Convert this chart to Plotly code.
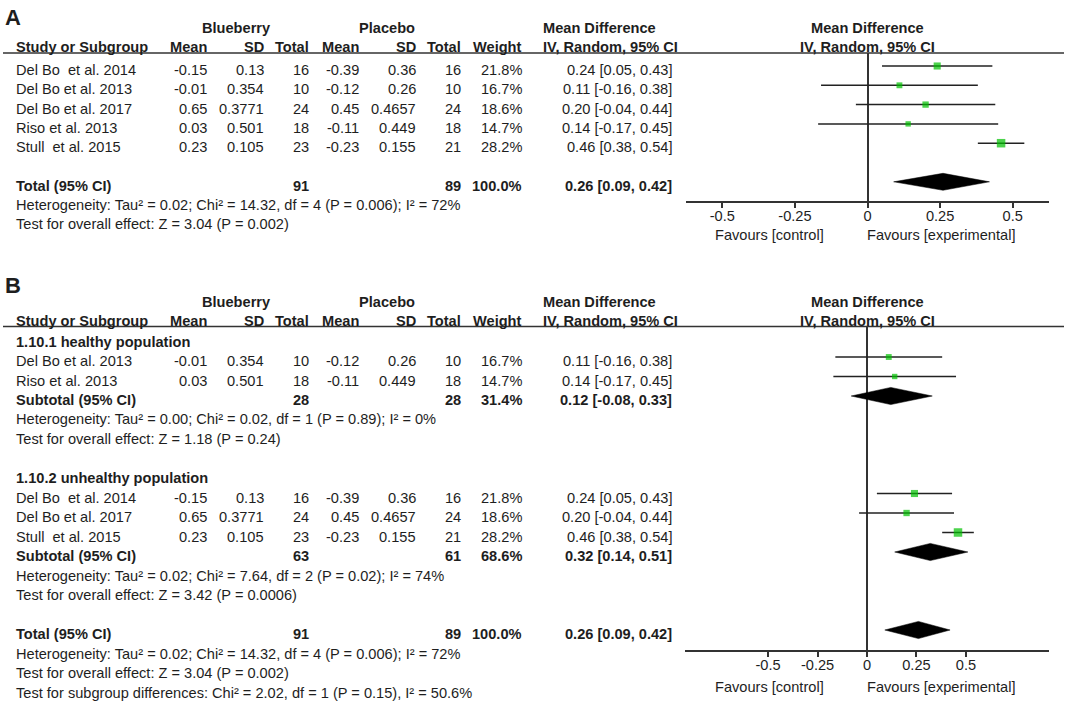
import plotly.graph_objects as go

W, H = 1065, 704

# study level data (same five trials in both panels)
studies = ['Del Bo\u00a0 et al. 2014', 'Del Bo et al. 2013', 'Del Bo et al. 2017',
           'Riso et al. 2013', 'Stull\u00a0 et al. 2015']
blue_mean = [-0.15, -0.01, 0.65, 0.03, 0.23]
blue_sd = [0.13, 0.354, 0.3771, 0.501, 0.105]
blue_n = [16, 10, 24, 18, 23]
plac_mean = [-0.39, -0.12, 0.45, -0.11, -0.23]
plac_sd = [0.36, 0.26, 0.4657, 0.449, 0.155]
plac_n = [16, 10, 24, 18, 21]
weight = [21.8, 16.7, 18.6, 14.7, 28.2]
md = [0.24, 0.11, 0.20, 0.14, 0.46]
ci_lo = [0.05, -0.16, -0.04, -0.17, 0.38]
ci_hi = [0.43, 0.38, 0.44, 0.45, 0.54]

# pooled result
total_n = [91, 89]
total_weight = 100.0
total_md, total_lo, total_hi = 0.26, 0.09, 0.42
total_het = 'Heterogeneity: Tau² = 0.02; Chi² = 14.32, df = 4 (P = 0.006); I² = 72%'
total_test = 'Test for overall effect: Z = 3.04 (P = 0.002)'
subgroup_diff = 'Test for subgroup differences: Chi² = 2.02, df = 1 (P = 0.15), I² = 50.6%'

# subgroups for panel B
group_names = ['1.10.1 healthy population', '1.10.2 unhealthy population']
group_members = [[1, 3], [0, 2, 4]]
sub_n_blue = [28, 63]
sub_n_plac = [28, 61]
sub_weight = [31.4, 68.6]
sub_md = [0.12, 0.32]
sub_lo = [-0.08, 0.14]
sub_hi = [0.33, 0.51]
sub_het = ['Heterogeneity: Tau² = 0.00; Chi² = 0.02, df = 1 (P = 0.89); I² = 0%',
           'Heterogeneity: Tau² = 0.02; Chi² = 7.64, df = 2 (P = 0.02); I² = 74%']
sub_test = ['Test for overall effect: Z = 1.18 (P = 0.24)',
            'Test for overall effect: Z = 3.42 (P = 0.0006)']

tick_vals = [-0.5, -0.25, 0, 0.25, 0.5]
tick_text = ['-0.5', '-0.25', '0', '0.25', '0.5']

TXT = '#1e1e1e'
GREEN = '#00c000'
FONT = 'Liberation Sans, Arial, sans-serif'
FS = 14.6
COL_X = [208, 265, 310, 360, 417, 462, 523]  # right edges of the numeric columns
EFF_X = 673

annotations = []
shapes = []


def label(x, y, text, anchor='left', bold=False, size=FS):
    annotations.append(dict(xref='paper', yref='paper', x=x / W, y=1 - y / H,
                            text=f'<b>{text}</b>' if bold else text, showarrow=False,
                            xanchor=anchor, yanchor='middle', borderpad=0,
                            font=dict(size=size, color=TXT, family=FONT)))


def effect(m, lo, hi):
    return f'{m:.2f} [{lo:.2f}, {hi:.2f}]'


def header(top):
    label(236, top, 'Blueberry', 'center', True)
    label(387, top, 'Placebo', 'center', True)
    label(542, top, 'Mean Difference', 'left', True)
    label(867, top, 'Mean Difference', 'center', True)
    y2 = top + 19
    label(15, y2, 'Study or Subgroup', 'left', True)
    for x, t in zip(COL_X, ['Mean', 'SD', 'Total', 'Mean', 'SD', 'Total', 'Weight']):
        label(x, y2, t, 'right', True)
    label(542, y2, 'IV, Random, 95% CI', 'left', True)
    label(867, y2, 'IV, Random, 95% CI', 'center', True)
    shapes.append(dict(type='line', xref='paper', yref='paper', x0=3 / W, x1=1064 / W,
                       y0=1 - (top + 25) / H, y1=1 - (top + 25) / H,
                       line=dict(color='#333333', width=1.5)))


def study_row(y, i):
    label(15, y, studies[i])
    vals = [blue_mean[i], blue_sd[i], blue_n[i], plac_mean[i], plac_sd[i], plac_n[i],
            f'{weight[i]:.1f}%']
    for x, v in zip(COL_X, vals):
        label(x, y, str(v), 'right')
    label(EFF_X, y, effect(md[i], ci_lo[i], ci_hi[i]), 'right')


def pooled_row(y, name, n1, n2, w, m, lo, hi):
    label(15, y, name, 'left', True)
    label(COL_X[2], y, str(n1), 'right', True)
    label(COL_X[5], y, str(n2), 'right', True)
    label(COL_X[6], y, f'{w:.1f}%', 'right', True)
    label(EFF_X, y, effect(m, lo, hi), 'right', True)


fig = go.Figure()


def add_forest(xa, ya, rows, idx):
    fig.add_trace(go.Scatter(
        x=[md[i] for i in idx], y=rows, mode='markers', xaxis=xa, yaxis=ya,
        marker=dict(symbol='square', color=GREEN, size=[0.82 * weight[i] ** 0.7 for i in idx],
                    line=dict(width=0)),
        error_x=dict(type='data', symmetric=False,
                     array=[ci_hi[i] - md[i] for i in idx],
                     arrayminus=[md[i] - ci_lo[i] for i in idx],
                     color='#222222', thickness=1.5, width=0),
        showlegend=False, hoverinfo='skip'))


def add_diamond(xa, ya, r, m, lo, hi, h=0.44):
    fig.add_trace(go.Scatter(
        x=[lo, m, hi, m, lo], y=[r, r - h, r, r + h, r], mode='lines', fill='toself',
        fillcolor='black', line=dict(color='black', width=0.5), xaxis=xa, yaxis=ya,
        showlegend=False, hoverinfo='skip'))


# ---------------- panel A ----------------
label(4, 17, 'A', 'left', True, 22)
header(28)
a_base, a_step = 70, 19.3
for k in range(5):
    study_row(a_base + k * a_step, k)
pooled_row(a_base + 6 * a_step, 'Total (95% CI)', total_n[0], total_n[1], total_weight,
           total_md, total_lo, total_hi)
label(15, a_base + 7 * a_step, total_het)
label(15, a_base + 8 * a_step, total_test)

add_forest('x', 'y', list(range(5)), list(range(5)))
add_diamond('x', 'y', 6, total_md, total_lo, total_hi)

# ---------------- panel B ----------------
label(4, 285, 'B', 'left', True, 22)
header(301.5)
b_base, b_step = 341.5, 19.5
k = 0
for g, members in enumerate(group_members):
    label(15, b_base + k * b_step, group_names[g], 'left', True)
    rows = [k + 1 + j for j in range(len(members))]
    for r, i in zip(rows, members):
        study_row(b_base + r * b_step, i)
    add_forest('x2', 'y2', rows, members)
    ks = k + 1 + len(members)
    pooled_row(b_base + ks * b_step, 'Subtotal (95% CI)', sub_n_blue[g], sub_n_plac[g],
               sub_weight[g], sub_md[g], sub_lo[g], sub_hi[g])
    add_diamond('x2', 'y2', ks, sub_md[g], sub_lo[g], sub_hi[g])
    label(15, b_base + (ks + 1) * b_step, sub_het[g])
    label(15, b_base + (ks + 2) * b_step, sub_test[g])
    k = ks + 4
pooled_row(b_base + k * b_step, 'Total (95% CI)', total_n[0], total_n[1], total_weight,
           total_md, total_lo, total_hi)
add_diamond('x2', 'y2', k, total_md, total_lo, total_hi)
label(15, b_base + (k + 1) * b_step, total_het)
label(15, b_base + (k + 2) * b_step, total_test)
label(15, b_base + (k + 3) * b_step, subgroup_diff)

# favour labels under both axes
for fy in (235, 687):
    label(769, fy, 'Favours [control]', 'center')
    label(941, fy, 'Favours [experimental]', 'center')


def xaxis_style(dom, rng, anchor, inside=False):
    d = dict(domain=[dom[0] / W, dom[1] / W], range=rng, anchor=anchor,
             tickvals=tick_vals, ticktext=tick_text, ticklen=5, tickwidth=1.5,
             tickcolor='#333333', showgrid=False, fixedrange=True)
    if inside:
        d.update(ticks='inside', showticklabels=False, showline=False, zeroline=False)
    else:
        d.update(ticks='outside', showline=True, linecolor='#333333', linewidth=1.5,
                 zeroline=True, zerolinecolor='#333333', zerolinewidth=1.5,
                 ticklabelstandoff=-4,
                 tickfont=dict(size=FS, color=TXT, family=FONT))
    return d


def yaxis_style(top_px, bot_px, base, step):
    k_top = (top_px - base) / step
    k_bot = (bot_px - base) / step
    return dict(domain=[1 - bot_px / H, 1 - top_px / H], range=[k_bot, k_top],
                visible=False, showgrid=False, zeroline=False, fixedrange=True)


a_rng = [-0.625, 0.625]
b_rng = [-0.92, 0.92]
fig.update_layout(
    width=W, height=H, margin=dict(l=0, r=0, t=0, b=0),
    paper_bgcolor='white', plot_bgcolor='rgba(0,0,0,0)',
    font=dict(family=FONT, size=FS, color=TXT),
    xaxis=xaxis_style((686, 1049), a_rng, 'y'),
    yaxis=yaxis_style(53, 201, a_base - 4, a_step),
    xaxis3=dict(xaxis_style((686, 1049), a_rng, 'y', True), overlaying='x'),
    xaxis2=xaxis_style((685, 1049), b_rng, 'y2'),
    yaxis2=yaxis_style(327, 650, b_base - 4, b_step),
    xaxis4=dict(xaxis_style((685, 1049), b_rng, 'y2', True), overlaying='x2'),
    annotations=annotations, shapes=shapes,
)

# the page body has a default 8px margin; drop it so the figure sits at the window corner
fig.write_html('out.html', config={'displayModeBar': False},
               post_script="document.body.style.margin='0';")
